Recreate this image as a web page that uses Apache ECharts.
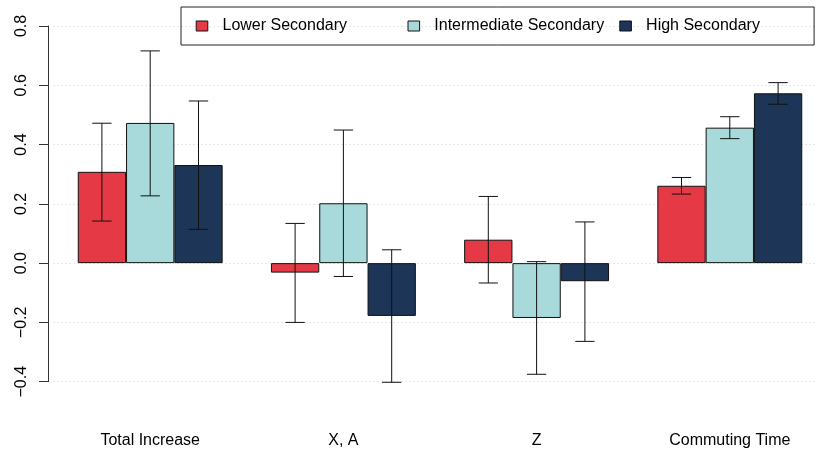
<!DOCTYPE html>
<html>
<head>
<meta charset="utf-8">
<script src="https://cdn.jsdelivr.net/npm/echarts@6/dist/echarts.min.js"></script>
<style>
  html, body { margin: 0; padding: 0; background: #fff; }
  #chart { width: 816px; height: 452px; }
</style>
</head>
<body>
<div id="chart"></div>
<script>
// Outcome groups along the x axis
const categories = ['Total Increase', 'X, A', 'Z', 'Commuting Time'];

// Estimates with lower / upper bounds of the error bars
const lowerSecondary   = [0.308, -0.032, 0.079, 0.261];
const lowerSecondaryLo = [0.142, -0.200, -0.067, 0.233];
const lowerSecondaryHi = [0.472, 0.134, 0.225, 0.289];

const intermediateSecondary   = [0.473, 0.202, -0.185, 0.457];
const intermediateSecondaryLo = [0.227, -0.045, -0.375, 0.420];
const intermediateSecondaryHi = [0.716, 0.449, 0.005, 0.494];

const highSecondary   = [0.331, -0.178, -0.061, 0.573];
const highSecondaryLo = [0.114, -0.402, -0.264, 0.536];
const highSecondaryHi = [0.547, 0.045, 0.139, 0.609];

// Value-axis ticks
const yTicks = [-0.4, -0.2, 0.0, 0.2, 0.4, 0.6, 0.8];

const FONT = "'Liberation Sans', Arial, sans-serif";
const colors = ['#E63946', '#A8DADC', '#1D3557'];

const groups = [
  { name: 'Lower Secondary', values: lowerSecondary, lo: lowerSecondaryLo, hi: lowerSecondaryHi },
  { name: 'Intermediate Secondary', values: intermediateSecondary, lo: intermediateSecondaryLo, hi: intermediateSecondaryHi },
  { name: 'High Secondary', values: highSecondary, lo: highSecondaryLo, hi: highSecondaryHi }
];

// Error bar drawn at the centre of the bar for series `slot` (-1, 0, 1)
function errorBar(slot) {
  return function (params, api) {
    const cat = api.value(0);
    const pLo = api.coord([cat, api.value(1)]);
    const pHi = api.coord([cat, api.value(2)]);
    const band = api.size([1, 0])[0];
    const barW = band * 0.25;
    const x = pLo[0] + slot * barW;
    const half = barW * 0.2;
    const style = { stroke: '#111', lineWidth: 1 };
    return {
      type: 'group',
      children: [
        { type: 'line', shape: { x1: x, y1: pLo[1], x2: x, y2: pHi[1] }, style },
        { type: 'line', shape: { x1: x - half, y1: pHi[1], x2: x + half, y2: pHi[1] }, style },
        { type: 'line', shape: { x1: x - half, y1: pLo[1], x2: x + half, y2: pLo[1] }, style }
      ]
    };
  };
}

const series = [];
groups.forEach((g, i) => {
  series.push({
    name: g.name,
    type: 'bar',
    data: g.values,
    barWidth: '25%',
    barGap: '0%',
    itemStyle: { color: colors[i], borderColor: '#111', borderWidth: 1 },
    z: 2
  });
});
groups.forEach((g, i) => {
  series.push({
    name: g.name + ' interval',
    type: 'custom',
    renderItem: errorBar(i - 1),
    data: categories.map((c, k) => [k, g.lo[k], g.hi[k]]),
    z: 5,
    silent: true
  });
});

const chart = echarts.init(document.getElementById('chart'), null, { renderer: 'canvas' });
chart.setOption({
  animation: false,
  backgroundColor: '#fff',
  textStyle: { fontFamily: FONT },
  grid: {
    left: 53.6, top: 26, width: 772.8, bottom: 70.3,
    containLabel: false, outerBoundsMode: 'none'
  },
  legend: {
    data: [
      { name: 'Lower Secondary' },
      { name: 'Intermediate Secondary' },
      { name: 'High Secondary', textStyle: { width: 150 } }
    ],
    left: 181,
    top: 7,
    orient: 'horizontal',
    padding: [11, 18, 11, 14.7],
    borderColor: '#222',
    borderWidth: 1,
    itemGap: 0,
    itemWidth: 11.6,
    itemHeight: 10,
    icon: 'rect',
    itemStyle: { borderColor: '#111', borderWidth: 1 },
    textStyle: {
      fontFamily: FONT, fontSize: 16, color: '#000',
      width: 185, lineHeight: 16, padding: [0, 0, 0, 9.7]
    }
  },
  xAxis: {
    type: 'category',
    data: categories,
    axisLine: { show: false },
    axisTick: { show: false },
    axisLabel: { margin: 51, fontSize: 16, color: '#000', fontFamily: FONT }
  },
  yAxis: {
    type: 'value',
    min: yTicks[0],
    max: yTicks[yTicks.length - 1],
    interval: 0.2,
    offset: 5.6,
    axisLine: { show: true, lineStyle: { color: '#333', width: 1 } },
    axisTick: { show: true, length: 9, lineStyle: { color: '#333' } },
    axisLabel: {
      rotate: 90, margin: 18, fontSize: 16, color: '#000', fontFamily: FONT,
      formatter: v => v.toFixed(1).replace('-', '\u2212')
    },
    splitLine: { show: true, lineStyle: { color: '#cfcfcf', type: [1, 3], width: 1 } }
  },
  series
});
</script>
</body>
</html>
